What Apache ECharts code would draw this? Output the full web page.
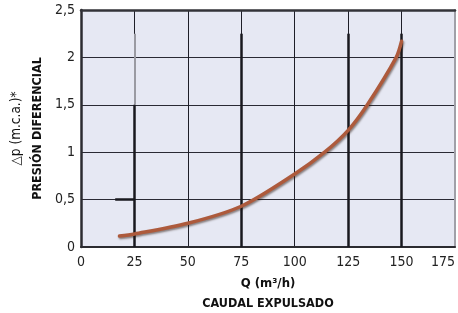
<!DOCTYPE html>
<html>
<head>
<meta charset="utf-8">
<script src="https://cdn.jsdelivr.net/npm/echarts@6/dist/echarts.min.js"></script>
<style>
  html, body { margin: 0; padding: 0; background: #fff; }
  #chart { width: 458px; height: 313px; }
</style>
</head>
<body>
<div id="chart"></div>
<script>
// curva de presion diferencial
const caudal = [18, 25, 50, 75, 100, 114, 125, 134, 147.5, 150];
const presion = [0.115, 0.137, 0.25, 0.43, 0.77, 1.0, 1.23, 1.5, 2.0, 2.17];

// trazos gruesos que aparecen sobre la rejilla (en coordenadas de datos)
const thickLines = [
  [[25, 0], [25, 1.5]],
  [[75, 0], [75, 2.25]],
  [[125, 0], [125, 2.25]],
  [[150, 0], [150, 2.25]],
  [[16, 0.5], [25, 0.5]]
];
const greyLines = [
  [[25, 1.5], [25, 2.25]]
];

const FONT = '"DejaVu Sans Condensed", "Liberation Sans Narrow", "Liberation Sans", sans-serif';

let myChart = echarts.init(document.getElementById("chart"));

let markData = thickLines.map(seg => [
  { coord: seg[0], lineStyle: { color: "#18181e", width: 2.5, type: "solid" } },
  { coord: seg[1] }
]).concat(greyLines.map(seg => [
  { coord: seg[0], lineStyle: { color: "#9a9aa2", width: 2, type: "solid" } },
  { coord: seg[1] }
]));

myChart.setOption({
  animation: false,
  grid: {
    left: 81,
    right: 3,
    top: 10,
    bottom: 66,
    show: true,
    backgroundColor: "#e6e8f3",
    borderWidth: 0,
    outerBoundsMode: "none"
  },
  xAxis: [
    {
      type: "value",
      min: 0,
      max: 175,
      interval: 25,
      axisLine: { show: true, onZero: false, lineStyle: { color: "#2b2b30", width: 2 } },
      axisTick: { show: false },
      axisLabel: {
        margin: 8,
        fontFamily: FONT,
        fontSize: 14,
        color: "#222",
        alignMaxLabel: "right"
      },
      splitLine: {
        show: true,
        lineStyle: {
          color: ["#1e1e28", "#1e1e28", "#1e1e28", "#1e1e28", "#1e1e28", "#1e1e28", "#1e1e28", "#a8a8b0"],
          width: 1
        }
      },
      name: "{a|Q (m³/h)}\n{b|CAUDAL EXPULSADO}",
      nameLocation: "middle",
      nameGap: 27,
      nameTextStyle: {
        rich: {
          a: { fontFamily: FONT, fontWeight: "bold", fontSize: 13, color: "#111", lineHeight: 20 },
          b: { fontFamily: FONT, fontWeight: "bold", fontSize: 12.5, color: "#111", lineHeight: 20 }
        }
      }
    },
    {
      type: "value",
      position: "top",
      min: 0,
      max: 175,
      axisLine: { show: true, onZero: false, lineStyle: { color: "#333338", width: 2.5 } },
      axisTick: { show: false },
      axisLabel: { show: false },
      splitLine: { show: false }
    }
  ],
  yAxis: [
    {
      type: "value",
      min: 0,
      max: 2.5,
      interval: 0.5,
      axisLine: { show: true, onZero: false, lineStyle: { color: "#2b2b30", width: 2.5 } },
      axisTick: { show: false },
      axisLabel: {
        margin: 6,
        fontFamily: FONT,
        fontSize: 14,
        color: "#222",
        formatter: v => String(v).replace(".", ",")
      },
      splitLine: { show: true, lineStyle: { color: "#2a2a34", width: 1 } },
      name: "{a|△p (m.c.a.)*}\n{b|PRESIÓN DIFERENCIAL}",
      nameLocation: "middle",
      nameRotate: 90,
      nameGap: 29,
      nameTextStyle: {
        rich: {
          a: { fontFamily: FONT, fontSize: 13.5, color: "#111", lineHeight: 21 },
          b: { fontFamily: FONT, fontWeight: "bold", fontSize: 12.5, color: "#111", lineHeight: 21 }
        }
      }
    },
    {
      type: "value",
      position: "right",
      min: 0,
      max: 2.5,
      axisLine: { show: true, onZero: false, lineStyle: { color: "#a0a0a8", width: 2 } },
      axisTick: { show: false },
      axisLabel: { show: false },
      splitLine: { show: false }
    }
  ],
  series: [
    {
      name: "grid marks",
      type: "line",
      data: [],
      markLine: {
        silent: true,
        symbol: ["none", "none"],
        label: { show: false },
        data: markData
      }
    },
    {
      name: "Δp",
      type: "line",
      smooth: 0.3,
      showSymbol: false,
      data: caudal.map((q, i) => [q, presion[i]]),
      lineStyle: {
        color: "#ad5a3c",
        width: 3.5,
        cap: "round",
        shadowColor: "rgba(40, 20, 10, 0.5)",
        shadowBlur: 2,
        shadowOffsetX: 1,
        shadowOffsetY: 1.5
      },
      z: 5
    }
  ]
});
</script>
</body>
</html>
